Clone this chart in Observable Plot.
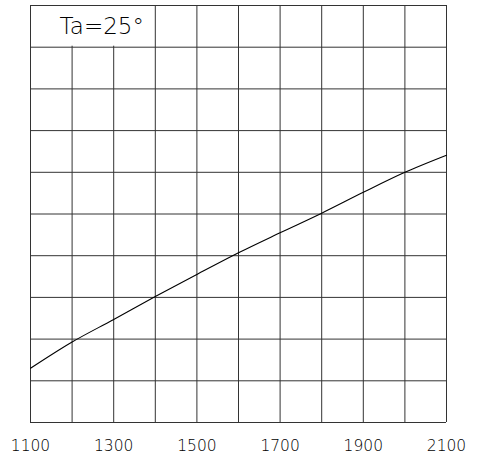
<!DOCTYPE html>
<html>
<head>
<meta charset="utf-8">
<script src="https://cdn.jsdelivr.net/npm/d3@7"></script>
<script src="https://cdn.jsdelivr.net/npm/@observablehq/plot@0.6"></script>
<style>
  html, body { margin: 0; padding: 0; background: #fff; }
  svg { display: block; }
</style>
</head>
<body>
<div id="chart"></div>
<script>
// Data
const xValues = [1100, 1200, 1300, 1400, 1500, 1600, 1700, 1800, 1900, 2000, 2100];
const yValues = [1.30, 1.93, 2.47, 3.02, 3.55, 4.07, 4.55, 5.02, 5.52, 6.00, 6.41];
const xTickLabels = [1100, 1300, 1500, 1700, 1900, 2100];
const gridX = [1100, 1200, 1300, 1400, 1500, 1600, 1700, 1800, 1900, 2000, 2100];
const gridY = [0, 1, 2, 3, 4, 5, 6, 7, 8, 9, 10];
const labelText = "Ta=25°";

const curve = xValues.map((x, i) => ({x, y: yValues[i]}));

const chart = Plot.plot({
  width: 482,
  height: 459,
  marginLeft: 30,
  marginRight: 36,
  marginTop: 5,
  marginBottom: 37,
  style: {fontFamily: "DejaVu Sans", background: "#fff"},
  x: {domain: [1100, 2100], ticks: xTickLabels, tickSize: 0, tickFormat: d => String(d), label: null},
  y: {domain: [0, 10], axis: null},
  marks: [
    Plot.ruleX(gridX, {stroke: "#333", strokeWidth: 1}),
    Plot.ruleY(gridY, {stroke: "#333", strokeWidth: 1}),
    Plot.rect([{x1: 1100, x2: 1400, y1: 9, y2: 10}], {x1: "x1", x2: "x2", y1: "y1", y2: "y2", fill: "#fff", inset: 1}),
    Plot.text([labelText], {x: 1170, y: 9.5, text: d => d, textAnchor: "start", fontSize: 23, fill: "#000", fontWeight: 200}),
    Plot.line(curve, {x: "x", y: "y", curve: "monotone-x", stroke: "#000", strokeWidth: 1.1}),
    Plot.axisX({ticks: xTickLabels, tickSize: 0, tickPadding: 17, fontSize: 15.5, fontWeight: 200, label: null, tickFormat: d => String(d)})
  ]
});
document.getElementById("chart").appendChild(chart);
</script>
</body>
</html>
